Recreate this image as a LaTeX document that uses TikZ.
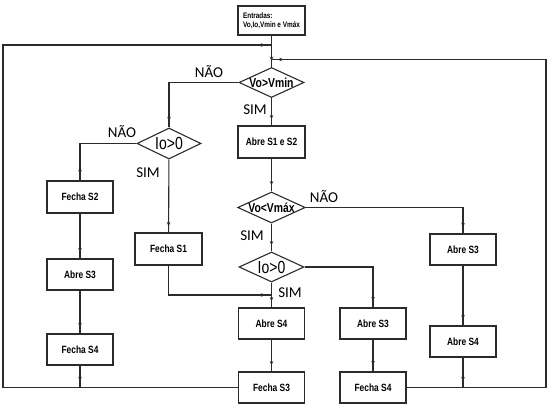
\documentclass[tikz,border=0pt]{standalone}
\usepackage{fontspec}
\setmainfont{Liberation Sans}
\newfontfamily\caixafont[FakeStretch=0.8]{Liberation Sans}
\newfontfamily\rotulofont{Carlito}
\usepackage{tikz}
\usetikzlibrary{shapes.geometric, arrows.meta, decorations.markings}
\usepackage{xcolor}
\definecolor{linha}{HTML}{2B2B2B}

\tikzset{
  caixa/.style={rectangle, draw=linha, line width=1.1pt, minimum width=66pt,
      minimum height=31pt, inner sep=1pt,
      font=\caixafont\bfseries\fontsize{10.5}{12}\selectfont},
  decisao/.style={diamond, draw=linha, line width=1.1pt, aspect=2.2,
      minimum width=65pt, minimum height=30pt, inner sep=0pt,
      font=\caixafont\bfseries\fontsize{13}{14}\selectfont},
  decisaoio/.style={decisao, font=\caixafont\fontsize{17.5}{18}\selectfont},
  rotulo/.style={font=\rotulofont\fontsize{15}{17}\selectfont, inner sep=0pt},
  liga/.style={draw=linha, line width=1.1pt},
  seta/.style={liga, postaction={decorate}, decoration={markings,
      mark=at position -6pt with {\arrow{Stealth[length=4.5pt,width=3.5pt]}}}},
}

\begin{document}
\begin{tikzpicture}[x=1pt, y=-1pt]
\useasboundingbox (0,0) rectangle (553,404);

% coluna central
\node[caixa, minimum width=67pt, minimum height=29pt, align=left,
      font=\caixafont\bfseries\fontsize{8}{9}\selectfont] (ent) at (271.5,20.5)
      {Entradas:\\Vo,Io,Vmin e Vmáx};
\node[decisao] (vmin) at (271.5,82.5) {Vo>Vmin};
\node[caixa, minimum width=67pt, minimum height=32pt] (abre12) at (271.5,142) {Abre S1 e S2};
\node[decisao, minimum height=31pt] (vmax) at (271.5,207.5) {Vo<Vmáx};
\node[decisaoio] (iob) at (271.5,267) {Io>0};
\node[caixa] (abre4b) at (271.5,323.5) {Abre S4};
\node[caixa] (fecha3b) at (271.5,387.5) {Fecha S3};

% coluna da esquerda
\node[decisaoio, minimum width=64pt, minimum height=31pt] (ioa) at (169,143.5) {Io>0};
\node[caixa, minimum height=32pt] (fecha2) at (80,197) {Fecha S2};
\node[caixa] (abre3a) at (80,274.5) {Abre S3};
\node[caixa] (fecha4a) at (80,349.5) {Fecha S4};
\node[caixa, minimum width=67pt, minimum height=32pt] (fecha1) at (168.5,249) {Fecha S1};

% colunas da direita
\node[caixa] (abre3c) at (373,323.5) {Abre S3};
\node[caixa] (fecha4c) at (373,387.5) {Fecha S4};
\node[caixa] (abre3d) at (463,249.5) {Abre S3};
\node[caixa] (abre4d) at (463,341.5) {Abre S4};

% rotulos
\node[rotulo] (naoa) at (209,72) {NÃO};
\node[rotulo] (sima) at (255,110) {SIM};
\node[rotulo] (naob) at (122,132) {NÃO};
\node[rotulo] (simb) at (148,173) {SIM};
\node[rotulo] (naoc) at (324,197) {NÃO};
\node[rotulo] (simc) at (252,236) {SIM};
\node[rotulo] (simd) at (290,293) {SIM};

% pontos de juncao
\coordinate (jesq) at (271.5,45);
\coordinate (jdir) at (271.5,59.5);
\coordinate (jmeio) at (271.5,295);
\coordinate (cantoesq) at (3,45);
\coordinate (cantodir) at (546,59.5);

% ligacoes
\draw[seta] (ent) -- (vmin);
\draw[seta] (vmin) -- (abre12);
\draw[seta] (abre12) -- (vmax);
\draw[seta] (vmax) -- (iob);
\draw[seta] (iob) -- (abre4b);
\draw[seta] (abre4b) -- (fecha3b);
\draw[seta] (vmin.west) -| (ioa.north);
\draw[seta] (ioa.west) -| (fecha2.north);
\draw[seta] (fecha2) -- (abre3a);
\draw[seta] (abre3a) -- (fecha4a);
\draw[seta] (ioa) -- (fecha1);
\draw[seta] (fecha1.south) |- (jmeio);
\draw[seta] (iob.east) -| (abre3c.north);
\draw[seta] (abre3c) -- (fecha4c);
\draw[seta] (vmax.east) -| (abre3d.north);
\draw[seta] (abre3d) -- (abre4d);
\draw[seta] (fecha4a.south) -- (fecha4a.south |- fecha3b.west);
\draw[seta] (abre4d.south) -- (abre4d.south |- fecha4c.east);
\draw[seta] (fecha3b.west) -| (cantoesq) -- (jesq);
\draw[seta] (fecha4c.east) -| (cantodir) -- (jdir);
\end{tikzpicture}
\end{document}
